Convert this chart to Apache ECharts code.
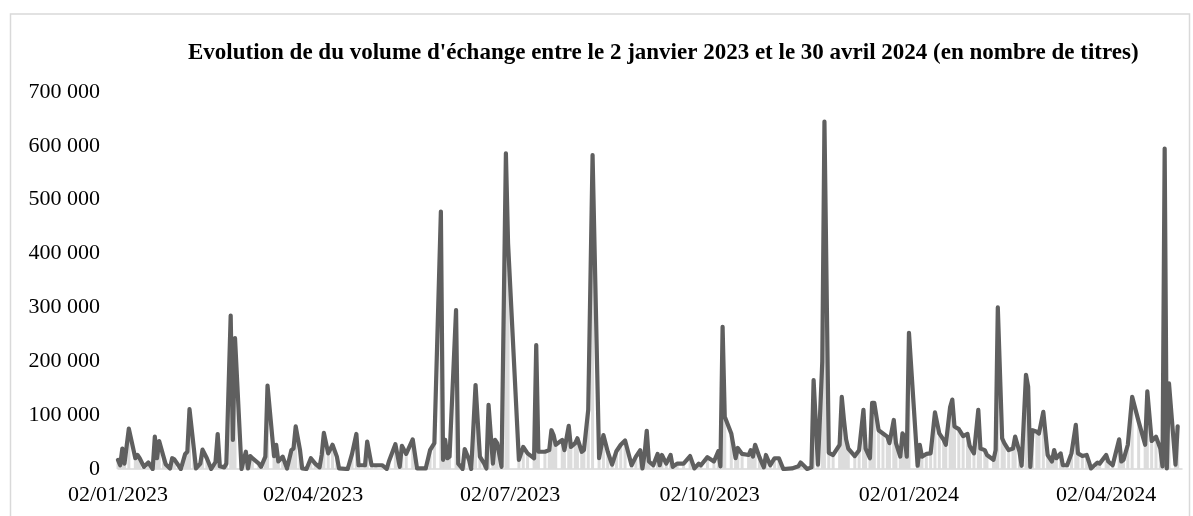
<!DOCTYPE html>
<html>
<head>
<meta charset="utf-8" />
<script src="https://cdn.jsdelivr.net/npm/echarts@6.0.0/dist/echarts.min.js"></script>
<style>html,body{margin:0;padding:0;background:#fff}#chart{width:1193px;height:516px}</style>
</head>
<body>
<div id="chart"></div>
<script>
var titre = "Evolution de du volume d'échange entre le 2 janvier 2023 et le 30 avril 2024 (en nombre de titres)";

// dates des séances
var dates = [
 '2023-01-02','2023-01-03','2023-01-04','2023-01-05','2023-01-07','2023-01-10','2023-01-11','2023-01-12','2023-01-14','2023-01-16',
 '2023-01-18','2023-01-19','2023-01-20','2023-01-21','2023-01-23','2023-01-24','2023-01-26','2023-01-27','2023-01-28','2023-01-31',
 '2023-02-02','2023-02-03','2023-02-04','2023-02-06','2023-02-07','2023-02-09','2023-02-10','2023-02-12','2023-02-14','2023-02-16',
 '2023-02-17','2023-02-18','2023-02-20','2023-02-21','2023-02-23','2023-02-24','2023-02-25','2023-02-28','2023-03-01','2023-03-02',
 '2023-03-03','2023-03-04','2023-03-05','2023-03-08','2023-03-09','2023-03-11','2023-03-12','2023-03-15','2023-03-16','2023-03-17',
 '2023-03-19','2023-03-21','2023-03-23','2023-03-24','2023-03-25','2023-03-27','2023-03-28','2023-03-30','2023-04-01','2023-04-03',
 '2023-04-05','2023-04-06','2023-04-07','2023-04-09','2023-04-11','2023-04-13','2023-04-14','2023-04-18','2023-04-20','2023-04-22',
 '2023-04-23','2023-04-26','2023-04-27','2023-04-29','2023-05-01','2023-05-04','2023-05-06','2023-05-07','2023-05-10','2023-05-12',
 '2023-05-13','2023-05-15','2023-05-18','2023-05-20','2023-05-24','2023-05-26','2023-05-28','2023-05-31','2023-06-01','2023-06-02',
 '2023-06-03','2023-06-04','2023-06-07','2023-06-08','2023-06-10','2023-06-11','2023-06-13','2023-06-14','2023-06-16','2023-06-18',
 '2023-06-20','2023-06-21','2023-06-22','2023-06-24','2023-06-25','2023-06-26','2023-06-28','2023-06-30','2023-07-01','2023-07-06',
 '2023-07-08','2023-07-10','2023-07-13','2023-07-14','2023-07-15','2023-07-18','2023-07-20','2023-07-21','2023-07-22','2023-07-23',
 '2023-07-26','2023-07-27','2023-07-29','2023-07-30','2023-08-01','2023-08-02','2023-08-04','2023-08-05','2023-08-07','2023-08-09',
 '2023-08-12','2023-08-14','2023-08-16','2023-08-18','2023-08-20','2023-08-22','2023-08-24','2023-08-27','2023-08-29','2023-08-31',
 '2023-09-01','2023-09-02','2023-09-03','2023-09-04','2023-09-06','2023-09-08','2023-09-09','2023-09-10','2023-09-12','2023-09-14',
 '2023-09-15','2023-09-17','2023-09-20','2023-09-23','2023-09-25','2023-09-27','2023-09-28','2023-10-01','2023-10-04','2023-10-06',
 '2023-10-07','2023-10-08','2023-10-09','2023-10-12','2023-10-14','2023-10-15','2023-10-17','2023-10-20','2023-10-21','2023-10-22',
 '2023-10-23','2023-10-25','2023-10-27','2023-10-28','2023-10-30','2023-11-01','2023-11-03','2023-11-05','2023-11-09','2023-11-12',
 '2023-11-13','2023-11-15','2023-11-16','2023-11-18','2023-11-19','2023-11-21','2023-11-23','2023-11-24','2023-11-26','2023-11-28',
 '2023-12-01','2023-12-02','2023-12-03','2023-12-04','2023-12-05','2023-12-08','2023-12-10','2023-12-12','2023-12-13','2023-12-15',
 '2023-12-16','2023-12-17','2023-12-19','2023-12-21','2023-12-23','2023-12-24','2023-12-26','2023-12-27','2023-12-29','2023-12-30',
 '2023-12-31','2024-01-01','2024-01-02','2024-01-06','2024-01-07','2024-01-08','2024-01-10','2024-01-12','2024-01-14','2024-01-16',
 '2024-01-18','2024-01-19','2024-01-21','2024-01-22','2024-01-23','2024-01-25','2024-01-27','2024-01-29','2024-01-30','2024-02-01',
 '2024-02-03','2024-02-04','2024-02-06','2024-02-07','2024-02-10','2024-02-11','2024-02-12','2024-02-14','2024-02-15','2024-02-17',
 '2024-02-19','2024-02-20','2024-02-22','2024-02-23','2024-02-25','2024-02-26','2024-02-27','2024-02-28','2024-03-01','2024-03-02',
 '2024-03-04','2024-03-06','2024-03-07','2024-03-08','2024-03-09','2024-03-10','2024-03-12','2024-03-13','2024-03-15','2024-03-17',
 '2024-03-19','2024-03-20','2024-03-22','2024-03-24','2024-03-25','2024-03-26','2024-03-29','2024-03-30','2024-04-02','2024-04-03',
 '2024-04-05','2024-04-08','2024-04-09','2024-04-10','2024-04-12','2024-04-14','2024-04-17','2024-04-20','2024-04-21','2024-04-23',
 '2024-04-25','2024-04-27','2024-04-28','2024-04-29','2024-04-30','2024-05-01','2024-05-04','2024-05-05'
];

// volume échangé (nombre de titres)
var volumes = [
 17000,7000,38000,10000,75000,20000,26000,20000,4000,12000,
 0,60000,20000,52000,23000,9000,1000,20000,18000,0,
 28000,32000,111000,38000,1000,10000,36000,20000,0,13000,
 65000,5000,3000,10000,285000,54000,243000,0,17000,32000,
 1000,24000,20000,10000,4000,23000,155000,24000,45000,14000,
 23000,1000,35000,38000,79000,35000,1000,0,20000,10000,
 3000,26000,67000,29000,45000,23000,1000,0,28000,65000,
 7000,7000,51000,7000,7000,7000,0,14000,46000,4000,
 43000,28000,55000,1000,1000,35000,48000,478000,17000,54000,
 20000,23000,295000,10000,0,37000,17000,0,156000,23000,
 10000,1000,119000,10000,54000,48000,4000,586000,419000,17000,
 41000,29000,20000,230000,32000,32000,35000,72000,63000,45000,
 54000,35000,80000,41000,48000,57000,32000,35000,110000,583000,
 20000,63000,32000,8000,33000,45000,53000,7000,23000,35000,
 1000,28000,71000,14000,7000,28000,7000,26000,10000,26000,
 4000,10000,10000,24000,1000,10000,7000,22000,14000,33000,
 5000,264000,97000,66000,20000,39000,28000,26000,35000,23000,
 45000,22000,3000,26000,7000,20000,20000,0,1000,5000,
 12000,4000,0,3000,165000,8000,199000,645000,30000,26000,
 45000,134000,91000,55000,38000,24000,35000,110000,38000,20000,
 123000,123000,72000,66000,60000,48000,91000,48000,23000,66000,
 60000,23000,253000,6000,45000,23000,28000,29000,105000,66000,
 54000,45000,115000,129000,79000,74000,61000,65000,43000,29000,
 110000,38000,35000,26000,17000,35000,300000,57000,48000,35000,
 38000,60000,32000,6000,175000,153000,4000,72000,69000,66000,
 106000,26000,20000,14000,35000,20000,29000,7000,7000,29000,
 82000,29000,24000,26000,14000,1000,12000,10000,26000,14000,
 7000,55000,14000,17000,45000,134000,88000,45000,144000,52000,
 60000,38000,5000,595000,1000,159000,8000,79000
];

// graduations de l'axe des dates
var dateLabels = ['2023-01-02','2023-04-02','2023-07-02','2023-10-02','2024-01-02','2024-04-02'];
var dateMin = '2023-01-02', dateMax = '2024-05-07';
var yMax = 700000, yStep = 100000;

function ts(s){var p=s.split('-');return new Date(+p[0],p[1]-1,+p[2]).getTime();}
function fmtNombre(v){return String(v).replace(/\B(?=(\d{3})+(?!\d))/g,' ');}
function fmtDate(t){
    var d=new Date(t);
    function p(n){return (n<10?'0':'')+n;}
    return p(d.getDate())+'/'+p(d.getMonth()+1)+'/'+d.getFullYear();
}

var serie = dates.map(function(d,i){return [ts(d), volumes[i]];});
var police = 'Liberation Serif, Times New Roman, serif';

var myChart = echarts.init(document.getElementById('chart'));
myChart.setOption({
    animation: false,
    backgroundColor: '#fff',
    title: {
        text: titre,
        left: 183,
        top: 37,
        textStyle: {fontFamily: police, fontWeight: 'bold', fontSize: 23, color: '#000'}
    },
    graphic: [{
        type: 'rect',
        shape: {x: 10.5, y: 14, width: 1179, height: 540},
        style: {fill: 'none', stroke: '#d9d9d9', lineWidth: 1.5},
        silent: true
    }],
    grid: {left: 118, right: 11, top: 92, bottom: 47},
    // axe des dates en valeur (horodatage) pour placer les libellés où on veut
    xAxis: {
        type: 'value',
        min: ts(dateMin),
        max: ts(dateMax),
        axisLine: {show: true, lineStyle: {color: '#d9d9d9', width: 1.5}},
        axisTick: {show: false},
        splitLine: {show: false},
        axisLabel: {
            customValues: dateLabels.map(ts),
            formatter: function(v){return fmtDate(v);},
            hideOverlap: false,
            showMinLabel: true,
            fontFamily: police, fontSize: 22, color: '#000', margin: 15
        }
    },
    yAxis: {
        type: 'value',
        min: 0,
        max: yMax,
        interval: yStep,
        axisLine: {show: false},
        axisTick: {show: false},
        splitLine: {show: false},
        axisLabel: {
            formatter: function(v){return fmtNombre(v);},
            fontFamily: police, fontSize: 22, color: '#000', margin: 18
        }
    },
    series: [
        {
            name: 'Volume (barres)',
            type: 'bar',
            data: serie,
            barWidth: 3,
            itemStyle: {color: '#dcdcdc'},
            z: 1
        },
        {
            name: 'Volume',
            type: 'line',
            data: serie,
            showSymbol: false,
            lineStyle: {color: '#5f5f5f', width: 4.2, join: 'round', cap: 'round'},
            z: 2
        }
    ]
});
</script>
</body>
</html>
